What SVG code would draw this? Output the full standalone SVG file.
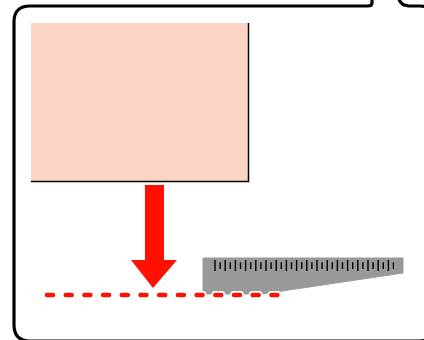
<svg xmlns="http://www.w3.org/2000/svg" width="424" height="340" viewBox="0 0 424 340">
<style>
.frame{fill:none;stroke:#000;stroke-width:3.2;stroke-linejoin:round}
.red{fill:#ff1000}
</style>
<rect width="424" height="340" fill="#fff"/>
<g id="frame">
<path class="frame" d="M372,-5 L372,3 Q372,6 368,6 L30,6 Q14,6 14,22 L14,325 Q14,341 30,341 L419,341 Q436,341 436,325 L436,22 Q436,6 420,6 L409,6 Q400,6 398,-4"/>
</g>
<g id="block">
<rect x="31" y="23" width="218" height="159" fill="#fdd5c5"/>
<path d="M248.5,23 L248.5,181.5 L31,181.5" fill="none" stroke="#000" stroke-width="1.5"/>
</g>
<g id="ruler">
<path d="M203,258 L403,258 L403,273 L262,294 L203,294 Z" fill="#999" stroke="#999" stroke-width="1" stroke-linejoin="round"/>
<line x1="214.3" y1="265.5" x2="394" y2="265.5" stroke="#000" stroke-width="11" stroke-dasharray="1.4 8.8"/>
<line x1="219.4" y1="265.7" x2="394" y2="265.7" stroke="#000" stroke-width="6.7" stroke-dasharray="1.4 8.8"/>
</g>
<g id="connectors">
<path class="red" d="M145,185 L164,185 L164,260 L177,260 L153,288 L131,260 L145,260 Z"/>
<line x1="47" y1="295" x2="280" y2="295" stroke="#fff" stroke-width="8" stroke-linecap="round" stroke-dasharray="6 12.7"/>
<line x1="47" y1="295" x2="280" y2="295" stroke="#ff1000" stroke-width="4.5" stroke-linecap="round" stroke-dasharray="6 12.7"/>
</g>
</svg>
